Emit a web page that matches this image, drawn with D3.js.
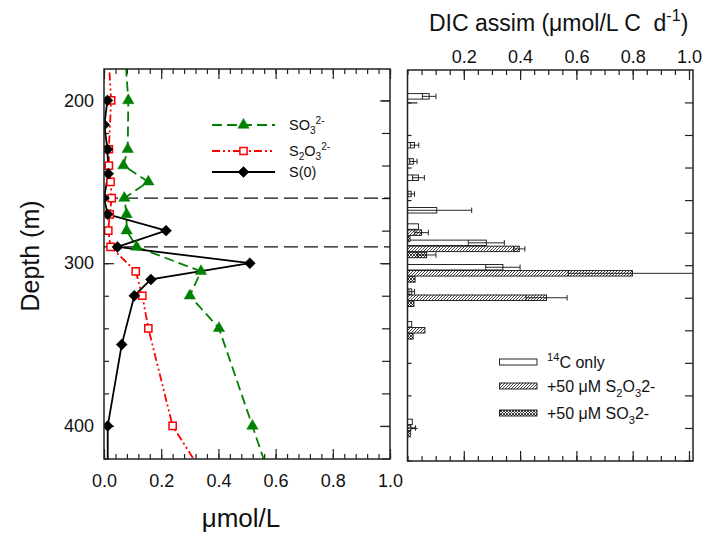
<!DOCTYPE html>
<html>
<head>
<meta charset="utf-8">
<script src="https://cdn.jsdelivr.net/npm/d3@7"></script>
<style>
  body { margin: 0; background: #fff; }
  svg { font-family: "Liberation Sans", Arial, sans-serif; }
</style>
</head>
<body>
<svg id="chart" width="704" height="533"></svg>
<script>
// ---- Left panel: sulfur species profiles (µmol/L vs depth) ----
const so3Depth = [170, 200, 230, 240, 250, 260, 270, 280, 290, 305, 320, 340, 400, 450];
const so3Conc  = [0.073, 0.085, 0.083, 0.068, 0.155, 0.071, 0.079, 0.079, 0.114, 0.339, 0.300, 0.402, 0.519, 0.615];

const s2o3Depth = [170, 200, 230, 240, 250, 260, 270, 280, 290, 305, 320, 340, 400, 450];
const s2o3Conc  = [0.015, 0.025, 0.017, 0.017, 0.023, 0.027, 0.020, 0.015, 0.023, 0.111, 0.134, 0.155, 0.240, 0.420];

const s0Depth = [200, 215, 230, 245, 260, 270, 280, 290, 300, 310, 320, 350, 400, 450];
const s0Conc  = [0.012, 0.001, 0.012, 0.015, 0.000, 0.013, 0.217, 0.047, 0.510, 0.164, 0.106, 0.062, 0.013, 0.013];

const refDepths = [260, 290];

// ---- Right panel: DIC assimilation rates (µmol/L C d-1) ----
const incDepths = [200, 230, 240, 250, 260, 270, 280, 290, 305, 320, 340, 400];
const c14Rate   = [0.077, 0.025, 0.021, 0.039, 0.013, 0.104, 0.039, 0.280, 0.339, 0.015, 0.015, 0.017];
const c14Err    = [0.024, 0.015, 0.013, 0.021, 0.012, 0.124, 0,     0.064, 0.061, 0.010, 0,     0];
const s2o3Rate  = [0,     0,     0,     0,     0,     0,     0.050, 0.397, 0.799, 0.494, 0.062, 0.012];
const s2o3Err   = [0,     0,     0,     0,     0,     0,     0.024, 0.020, 0.228, 0.073, 0,     0.016];
const so3Rate   = [0,     0,     0,     0,     0,     0,     0.009, 0.068, 0.027, 0.023, 0.020, 0.010];
const so3Err    = [0,     0,     0,     0,     0,     0,     0,     0.033, 0,     0,     0,     0];

// ---- Tick labels ----
const concTicks   = [0, 0.2, 0.4, 0.6, 0.8, 1.0];
const concLabels  = ["0.0", "0.2", "0.4", "0.6", "0.8", "1.0"];
const rateTicks   = [0.2, 0.4, 0.6, 0.8, 1.0];
const rateLabels  = ["0.2", "0.4", "0.6", "0.8", "1.0"];
const depthTicks  = [200, 300, 400];
const depthLabels = ["200", "300", "400"];

const svg = d3.select("#chart");
const FONT = '"Liberation Sans", Arial, sans-serif';
const depthDomain = [180.7, 420.3];

// panel frames
const L = { x0: 104, x1: 390, y0: 69, y1: 459 };
const R = { x0: 407.5, x1: 693, y0: 70, y1: 461 };

const xL = d3.scaleLinear().domain([0, 1]).range([L.x0, L.x1]);
const yL = d3.scaleLinear().domain(depthDomain).range([L.y0, L.y1]);
const xR = d3.scaleLinear().domain([0, 1]).range([407.5, 689]);
const yR = d3.scaleLinear().domain(depthDomain).range([71, 461]);

const minorDepth = d3.range(200, 421, 20);
const minorConc = d3.range(0, 1.0001, 0.04);
const minorRate = d3.range(0, 1.0001, 0.05);

// ---- defs: clip paths and fill patterns ----
const defs = svg.append("defs");
defs.append("clipPath").attr("id", "clipL").append("rect")
  .attr("x", L.x0).attr("y", L.y0).attr("width", L.x1 - L.x0).attr("height", L.y1 - L.y0);
defs.append("clipPath").attr("id", "clipR").append("rect")
  .attr("x", R.x0).attr("y", R.y0).attr("width", R.x1 - R.x0).attr("height", R.y1 - R.y0);

const hatch = defs.append("pattern").attr("id", "hatch").attr("patternUnits", "userSpaceOnUse")
  .attr("width", 3).attr("height", 3);
hatch.append("rect").attr("width", 3).attr("height", 3).attr("fill", "#fff");
hatch.append("path").attr("d", "M0,3 L3,0 M-1,1 L1,-1 M2,4 L4,2")
  .attr("stroke", "#333").attr("stroke-width", 0.9);

const cross = defs.append("pattern").attr("id", "cross").attr("patternUnits", "userSpaceOnUse")
  .attr("width", 3).attr("height", 3);
cross.append("rect").attr("width", 3).attr("height", 3).attr("fill", "#fff");
cross.append("path").attr("d", "M0,3 L3,0 M-1,1 L1,-1 M2,4 L4,2 M0,0 L3,3 M-1,2 L1,4 M2,-1 L4,1")
  .attr("stroke", "#222").attr("stroke-width", 0.9);

// ---- axis helper: inward ticks, optional outward labels ----
function drawTicks(axis, transform, values, size, labels, padding) {
  const g = svg.append("g").attr("transform", transform)
    .call(axis.tickValues(values).tickSizeInner(-size).tickSizeOuter(0)
      .tickPadding(padding || 3)
      .tickFormat(labels ? (d, i) => labels[i] : () => ""));
  g.select(".domain").remove();
  g.selectAll("line").attr("stroke", "#222").attr("stroke-width", 1.2);
  g.selectAll("text").attr("font-size", 18).attr("fill", "#111").attr("font-family", FONT);
  return g;
}

// left panel ticks
drawTicks(d3.axisBottom(xL), `translate(0,${L.y1})`, minorConc, 5);
drawTicks(d3.axisBottom(xL), `translate(0,${L.y1})`, concTicks, 10, concLabels, 15);
drawTicks(d3.axisTop(xL), `translate(0,${L.y0})`, minorConc, 5);
drawTicks(d3.axisTop(xL), `translate(0,${L.y0})`, concTicks, 10);
drawTicks(d3.axisLeft(yL), `translate(${L.x0},0)`, minorDepth, 5);
drawTicks(d3.axisLeft(yL), `translate(${L.x0},0)`, depthTicks, 10, depthLabels, 10);
drawTicks(d3.axisRight(yL), `translate(${L.x1},0)`, minorDepth, 8);
drawTicks(d3.axisRight(yL), `translate(${L.x1},0)`, depthTicks, 10);

// right panel ticks
drawTicks(d3.axisTop(xR), `translate(0,${R.y0})`, minorRate, 5);
drawTicks(d3.axisTop(xR), `translate(0,${R.y0})`, rateTicks, 10, rateLabels, 7);
drawTicks(d3.axisBottom(xR), `translate(0,${R.y1})`, minorRate, 5);
drawTicks(d3.axisBottom(xR), `translate(0,${R.y1})`, rateTicks, 10);
drawTicks(d3.axisLeft(yR), `translate(${R.x0},0)`, minorDepth, 4);
drawTicks(d3.axisLeft(yR), `translate(${R.x0},0)`, depthTicks, 10);
drawTicks(d3.axisRight(yR), `translate(${R.x1},0)`, minorDepth, 8);

// ---- left panel content ----
const gL = svg.append("g").attr("clip-path", "url(#clipL)");

refDepths.forEach(d => {
  gL.append("line")
    .attr("x1", L.x0).attr("x2", L.x1).attr("y1", yL(d)).attr("y2", yL(d))
    .attr("stroke", "#111").attr("stroke-width", 1.1).attr("stroke-dasharray", "14,6");
});

const profiles = [
  { depth: so3Depth, conc: so3Conc, color: "#008000", dash: "10,5", width: 1.8, marker: "triangle" },
  { depth: s2o3Depth, conc: s2o3Conc, color: "#ff0000", dash: "8,3,2,3,2,3", width: 1.8, marker: "square" },
  { depth: s0Depth, conc: s0Conc, color: "#000", dash: null, width: 1.8, marker: "diamond" }
];

const line = d3.line().x(p => xL(p.v)).y(p => yL(p.d));

function markerPath(kind) {
  if (kind === "triangle") return d3.symbol(d3.symbolTriangle, 56)();
  if (kind === "square") return d3.symbol(d3.symbolSquare, 52)();
  return d3.symbol(d3.symbolSquare, 60)();
}
function drawMarker(g, kind, color, x, y) {
  const m = g.append("path").attr("d", markerPath(kind))
    .attr("transform", `translate(${x},${y})` + (kind === "diamond" ? " rotate(45)" : ""));
  if (kind === "square") m.attr("fill", "#fff").attr("stroke", color).attr("stroke-width", 1.5);
  else m.attr("fill", color).attr("stroke", color).attr("stroke-width", 0.5);
}

profiles.forEach(s => {
  const pts = s.depth.map((d, i) => ({ d, v: s.conc[i] }));
  gL.append("path").datum(pts).attr("d", line)
    .attr("fill", "none").attr("stroke", s.color).attr("stroke-width", s.width)
    .attr("stroke-dasharray", s.dash);
});
profiles.forEach(s => {
  s.depth.forEach((d, i) => drawMarker(gL, s.marker, s.color, xL(s.conc[i]), yL(d)));
});

// left legend
function richText(sel, parts, size) {
  let shift = 0;
  parts.forEach(p => {
    const target = p.sub ? size * 0.3 : p.sup ? -size * 0.42 : 0;
    sel.append("tspan").attr("dy", target - shift)
      .attr("font-size", (p.sub || p.sup) ? size * 0.7 : size).text(p.t);
    shift = target;
  });
}

const legL = [
  { y: 125, parts: [{ t: "SO" }, { t: "3", sub: true }, { t: "2-", sup: true }] },
  { y: 151, parts: [{ t: "S" }, { t: "2", sub: true }, { t: "O" }, { t: "3", sub: true }, { t: "2-", sup: true }] },
  { y: 172, parts: [{ t: "S(0)" }] }
];
legL.forEach((row, i) => {
  const s = profiles[i];
  svg.append("line").attr("x1", 212).attr("x2", 275).attr("y1", row.y).attr("y2", row.y)
    .attr("stroke", s.color).attr("stroke-width", s.width).attr("stroke-dasharray", s.dash);
  drawMarker(svg, s.marker, s.color, 243.5, row.y);
  const t = svg.append("text").attr("x", 289).attr("y", row.y + 5)
    .attr("font-size", 14.5).attr("fill", "#111");
  richText(t, row.parts, 14.5);
});

// ---- right panel bars ----
const series = [
  { key: "c14", rate: c14Rate, err: c14Err, fill: "#fff" },
  { key: "s2o3", rate: s2o3Rate, err: s2o3Err, fill: "url(#hatch)" },
  { key: "so3", rate: so3Rate, err: so3Err, fill: "url(#cross)" }
];
const band = d3.scaleBand().domain(series.map(s => s.key)).range([-8.8, 8.8]).paddingInner(0.1);

const gR = svg.append("g").attr("clip-path", "url(#clipR)");
series.forEach(s => {
  incDepths.forEach((d, i) => {
    const y = yR(d) + band(s.key);
    const h = band.bandwidth();
    const v = s.rate[i];
    if (v > 0) {
      gR.append("rect").attr("x", xR(0)).attr("y", y)
        .attr("width", xR(v) - xR(0)).attr("height", h)
        .attr("fill", s.fill).attr("stroke", "#111").attr("stroke-width", 0.9);
    }
    const e = s.err[i];
    if (e > 0) {
      const yc = y + h / 2;
      const lo = Math.max(0, v - e), hi = v + e;
      gR.append("line").attr("x1", xR(lo)).attr("x2", xR(hi)).attr("y1", yc).attr("y2", yc)
        .attr("stroke", "#111").attr("stroke-width", 0.9);
      [lo, hi].forEach(q => gR.append("line").attr("x1", xR(q)).attr("x2", xR(q))
        .attr("y1", y).attr("y2", y + h).attr("stroke", "#111").attr("stroke-width", 0.9));
    }
  });
});

// right legend
const legR = [
  { y: 362, parts: [{ t: "14", sup: true }, { t: "C only" }] },
  { y: 386, parts: [{ t: "+50 \u03bcM S" }, { t: "2", sub: true }, { t: "O" }, { t: "3", sub: true }, { t: "2-" }] },
  { y: 413, parts: [{ t: "+50 \u03bcM SO" }, { t: "3", sub: true }, { t: "2-" }] }
];
legR.forEach((row, i) => {
  svg.append("rect").attr("x", 499.5).attr("y", row.y - 3).attr("width", 37.5).attr("height", 6)
    .attr("fill", series[i].fill).attr("stroke", "#111").attr("stroke-width", 0.9);
  const t = svg.append("text").attr("x", 547).attr("y", row.y + 6)
    .attr("font-size", 16).attr("fill", "#111");
  richText(t, row.parts, 16);
});

// ---- frames ----
svg.append("rect").attr("x", L.x0).attr("y", L.y0).attr("width", L.x1 - L.x0).attr("height", L.y1 - L.y0)
  .attr("fill", "none").attr("stroke", "#222").attr("stroke-width", 1.5);
svg.append("rect").attr("x", R.x0).attr("y", R.y0).attr("width", R.x1 - R.x0).attr("height", R.y1 - R.y0)
  .attr("fill", "none").attr("stroke", "#222").attr("stroke-width", 1.5);

// ---- axis titles ----
svg.append("text").attr("transform", "translate(39,256) rotate(-90)")
  .attr("text-anchor", "middle").attr("font-size", 25).attr("fill", "#111").text("Depth (m)");
svg.append("text").attr("x", 241).attr("y", 527)
  .attr("text-anchor", "middle").attr("font-size", 26).attr("fill", "#111").text("\u03bcmol/L");
const title = svg.append("text").attr("x", 429).attr("y", 31).attr("font-size", 23).attr("fill", "#111");
richText(title, [{ t: "DIC assim (\u03bcmol/L C\u00a0 d" }, { t: "-1", sup: true }, { t: ")" }], 23);
</script>
</body>
</html>
